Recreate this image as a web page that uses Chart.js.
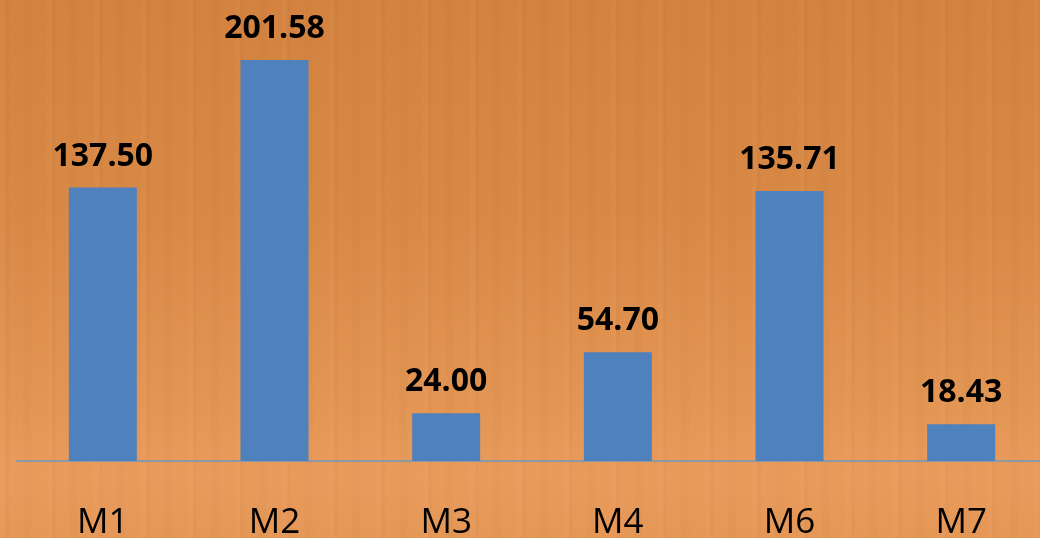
<!DOCTYPE html>
<html>
<head>
<meta charset="utf-8">
<script src="https://cdn.jsdelivr.net/npm/chart.js@4"></script>
<style>
  html, body { margin: 0; padding: 0; overflow: hidden; }
  body {
    width: 1040px; height: 538px;
    background:
      repeating-linear-gradient(90deg, rgba(255,255,255,0.025) 0 5px, rgba(0,0,0,0.02) 5px 9px, rgba(255,255,255,0) 9px 23px, rgba(0,0,0,0.015) 23px 31px, rgba(255,255,255,0) 31px 47px),
      linear-gradient(180deg, #D3833F 0%, #D98946 40%, #E39553 75%, #E99B5C 88%, #E59756 100%);
  }
  #wrap { position: absolute; left: 0; top: 0; width: 1047px; height: 538px; }
</style>
</head>
<body>
<div id="wrap"><canvas id="chart"></canvas></div>
<script>
  // Values
  const categories = ['M1', 'M2', 'M3', 'M4', 'M6', 'M7'];
  const values = [137.50, 201.58, 24.00, 54.70, 135.71, 18.43];

  // Draws the bold value above each bar
  const valueLabels = {
    id: 'valueLabels',
    afterDatasetsDraw(chart) {
      const ctx = chart.ctx;
      const meta = chart.getDatasetMeta(0);
      ctx.save();
      ctx.font = 'bold 32px "Open Sans"';
      ctx.fillStyle = '#000';
      ctx.textAlign = 'center';
      ctx.textBaseline = 'alphabetic';
      meta.data.forEach((bar, i) => {
        ctx.fillText(values[i].toFixed(2), bar.x, bar.y - 22);
      });
      ctx.restore();
    }
  };

  new Chart(document.getElementById('chart'), {
    type: 'bar',
    data: {
      labels: categories,
      datasets: [{
        data: values,
        backgroundColor: '#4F81BD',
        categoryPercentage: 1,
        barPercentage: 0.396,
      }],
    },
    options: {
      responsive: true,
      maintainAspectRatio: false,
      animation: false,
      layout: { padding: { left: 17, right: 0, top: 0, bottom: 0 } },
      plugins: { legend: { display: false }, tooltip: { enabled: false } },
      scales: {
        x: {
          grid: { display: false },
          border: { display: true, color: '#8C98A6', width: 2 },
          ticks: { color: '#000', font: { family: 'Open Sans', size: 35 }, padding: 33 },
          afterFit(scale) { scale.height = 77; },
        },
        y: {
          display: false,
          min: 0,
          max: 231.8,
        },
      },
    },
    plugins: [valueLabels],
  });
</script>
</body>
</html>
